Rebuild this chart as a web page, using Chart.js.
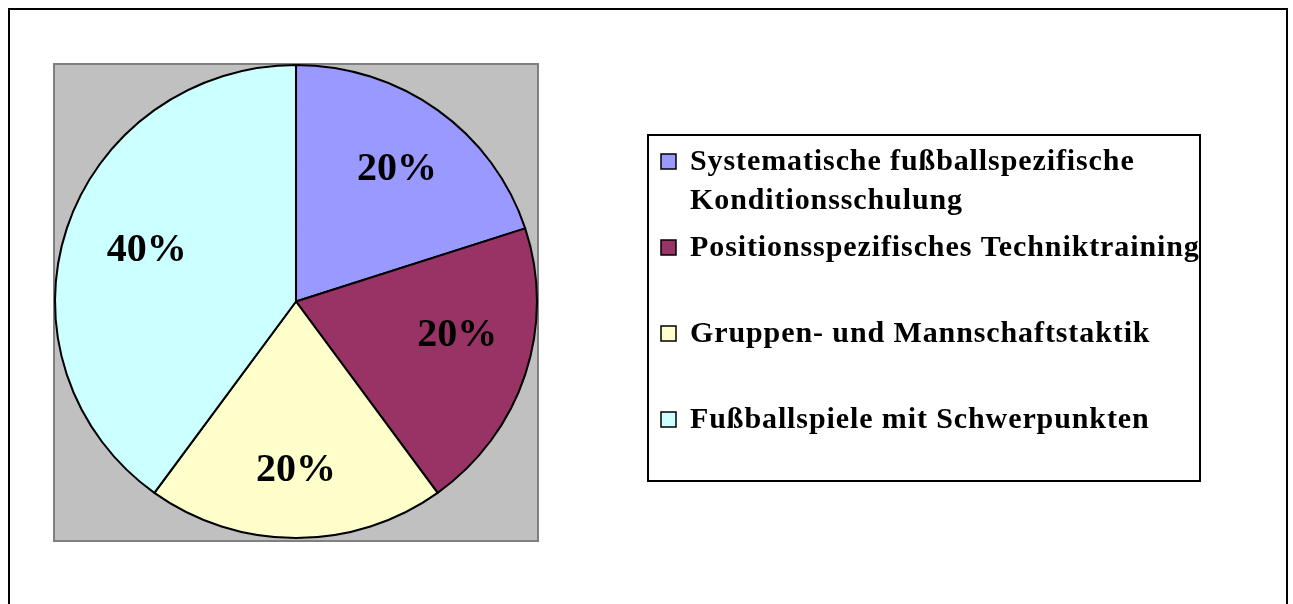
<!DOCTYPE html>
<html>
<head>
<meta charset="utf-8">
<script src="https://cdn.jsdelivr.net/npm/chart.js@4/dist/chart.umd.min.js"></script>
<style>
  html, body { margin: 0; padding: 0; background: #fff; overflow: hidden; }
  #wrap { width: 1293px; height: 604px; position: relative; }
</style>
</head>
<body>
<div id="wrap"><canvas id="pie"></canvas></div>
<script>
// ===== DATA =====
const categories = [
  "Systematische fußballspezifische Konditionsschulung",
  "Positionsspezifisches Techniktraining",
  "Gruppen- und Mannschaftstaktik",
  "Fußballspiele mit Schwerpunkten"
];
const shares = [20, 20, 20, 40];
const sliceColors = ["#9999FF", "#993366", "#FFFFCC", "#CCFFFF"];

const SERIF = '"Liberation Serif", "Times New Roman", serif';

// ===== FRAME + GREY PLOT AREA =====
const backdrop = {
  id: "backdrop",
  beforeDraw(chart) {
    const { ctx } = chart;
    ctx.save();
    ctx.strokeStyle = "#000";
    ctx.lineWidth = 2;
    ctx.strokeRect(9, 9, 1278, 700);
    // grey plot area, a touch larger than the pie box
    const a = chart.chartArea;
    ctx.fillStyle = "#C0C0C0";
    ctx.fillRect(a.left, a.top, a.right - a.left, a.bottom - a.top + 2);
    ctx.strokeStyle = "#808080";
    ctx.strokeRect(a.left, a.top, a.right - a.left, a.bottom - a.top + 2);
    ctx.restore();
  },
  // the original pie is very slightly wider than tall
  beforeDatasetsDraw(chart) {
    const arc = chart.getDatasetMeta(0).data[0];
    const ctx = chart.ctx;
    ctx.save();
    ctx.translate(arc.x, arc.y);
    ctx.scale(1.019, 1);
    ctx.translate(-arc.x, -arc.y);
  },
  afterDatasetsDraw(chart) {
    chart.ctx.restore();
  }
};

// ===== PERCENT LABELS =====
const labelNudge = [[5, 0], [6, -16], [0, 6], [6, 0]];

const pctLabels = {
  id: "pctLabels",
  afterDatasetsDraw(chart) {
    const { ctx } = chart;
    const meta = chart.getDatasetMeta(0);
    const total = shares.reduce((s, v) => s + v, 0);
    ctx.save();
    ctx.font = `bold 40px ${SERIF}`;
    ctx.fillStyle = "#000";
    ctx.textAlign = "center";
    ctx.textBaseline = "middle";
    meta.data.forEach((arc, i) => {
      const mid = (arc.startAngle + arc.endAngle) / 2;
      const r = arc.outerRadius * 0.69;
      const x = arc.x + Math.cos(mid) * r + labelNudge[i][0];
      const y = arc.y + Math.sin(mid) * r + labelNudge[i][1];
      ctx.fillText(Math.round(shares[i] / total * 100) + "%", x, y);
    });
    ctx.restore();
  }
};

// ===== LEGEND BOX =====
function wrapText(ctx, text, maxW) {
  const words = text.split(" ");
  const lines = [];
  let cur = "";
  words.forEach(w => {
    const test = cur ? cur + " " + w : w;
    if (ctx.measureText(test).width > maxW && cur) { lines.push(cur); cur = w; }
    else cur = test;
  });
  if (cur) lines.push(cur);
  return lines;
}

const boxLegend = {
  id: "boxLegend",
  afterDraw(chart) {
    const { ctx } = chart;
    const bx = 648, by = 135, bw = 552, bh = 346;
    ctx.save();
    ctx.strokeStyle = "#000";
    ctx.lineWidth = 2;
    ctx.strokeRect(bx, by, bw, bh);
    ctx.font = `bold 30px ${SERIF}`;
    if ("letterSpacing" in ctx) ctx.letterSpacing = "0.9px";
    ctx.textBaseline = "alphabetic";
    ctx.textAlign = "left";
    categories.forEach((label, i) => {
      const base = 170 + i * 86;
      ctx.fillStyle = sliceColors[i];
      ctx.fillRect(661, base - 16, 15, 15);
      ctx.strokeStyle = "#000";
      ctx.lineWidth = 1.5;
      ctx.strokeRect(661, base - 16, 15, 15);
      ctx.fillStyle = "#000";
      wrapText(ctx, label, 515).forEach((ln, k) => {
        ctx.fillText(ln, 690, base + k * 39);
      });
    });
    ctx.restore();
  }
};

new Chart(document.getElementById("pie"), {
  type: "pie",
  data: {
    labels: categories,
    datasets: [{
      data: shares,
      backgroundColor: sliceColors,
      borderColor: "#000",
      borderWidth: 2
    }]
  },
  options: {
    responsive: true,
    maintainAspectRatio: false,
    animation: false,
    layout: { padding: { left: 54, top: 64, right: 755, bottom: 65 } },
    plugins: {
      legend: { display: false },
      tooltip: { enabled: false }
    }
  },
  plugins: [backdrop, pctLabels, boxLegend]
});
</script>
</body>
</html>
